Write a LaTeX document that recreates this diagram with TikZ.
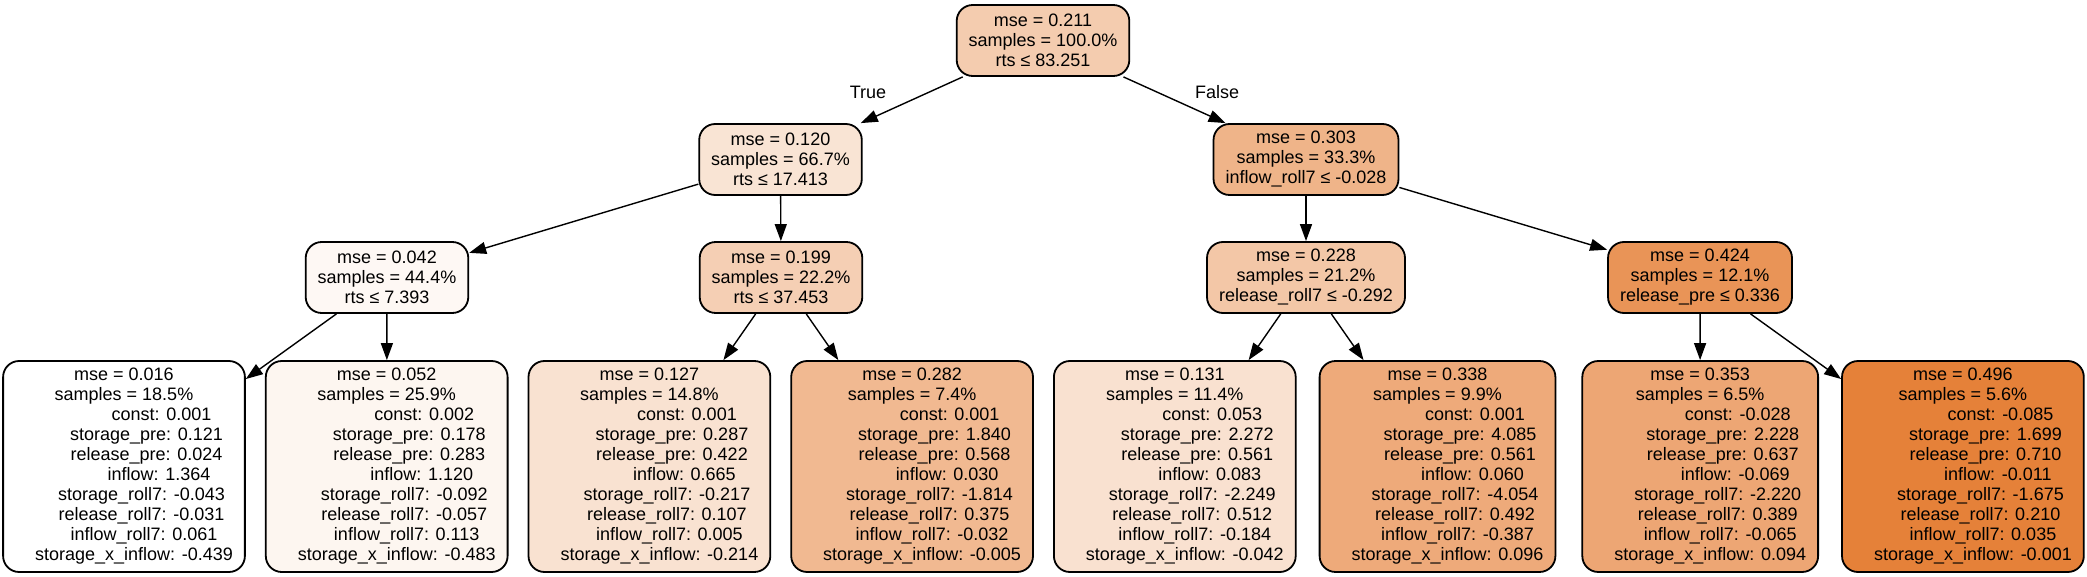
\documentclass[tikz,border=0pt]{standalone}
\usepackage{fontspec}
\setmainfont{Liberation Sans}
\usetikzlibrary{arrows.meta}
\definecolor{c211}{RGB}{244,204,175}
\definecolor{c120}{RGB}{249,228,212}
\definecolor{c303}{RGB}{239,180,137}
\definecolor{c042}{RGB}{254,248,244}
\definecolor{c199}{RGB}{245,207,180}
\definecolor{c228}{RGB}{243,199,167}
\definecolor{c424}{RGB}{233,148,87}
\definecolor{c016}{RGB}{255,255,255}
\definecolor{c052}{RGB}{253,246,240}
\definecolor{c127}{RGB}{249,226,209}
\definecolor{c282}{RGB}{241,185,145}
\definecolor{c131}{RGB}{249,225,208}
\definecolor{c338}{RGB}{238,170,122}
\definecolor{c353}{RGB}{237,166,116}
\definecolor{c496}{RGB}{229,129,57}
\newcommand\fl[2]{\hspace*{#1\fontdimen2\font}#2}
\newcommand\leaftext[8]{%
\fl{15}{const: #1}\\\fl{9}{storage\_pre: #2}\\\fl{9}{release\_pre: #3}\\\fl{14}{inflow: #4}\\%
\fl{7}{storage\_roll7: #5}\\\fl{7}{release\_roll7: #6}\\\fl{8}{inflow\_roll7: #7}\\\fl{4}{storage\_x\_inflow: #8}}
\tikzset{
  treenode/.style={draw=black, rounded corners=8pt, line width=0.9pt, align=center,
    inner xsep=6pt, inner ysep=2pt, minimum height=35.5pt,
    font=\fontsize{9pt}{10pt}\selectfont},
  leafnode/.style={treenode, minimum height=105.5pt},
  edge/.style={-{Triangle[length=8.5pt,width=6pt]}, line width=0.7pt},
  edgelabel/.style={font=\fontsize{9pt}{10pt}\selectfont}
}
\begin{document}
\begin{tikzpicture}[x=0.5pt,y=-0.5pt]
\useasboundingbox (0,0) rectangle (2087,577);
% internal nodes
\node[treenode, fill=c211] (root) at (1043,40.5) {mse = 0.211\\samples = 100.0\%\\rts ≤ 83.251};
\node[treenode, fill=c120] (n120) at (780.5,159.5) {mse = 0.120\\samples = 66.7\%\\rts ≤ 17.413};
\node[treenode, fill=c303] (n303) at (1306,159.5) {mse = 0.303\\samples = 33.3\%\\inflow\_roll7 ≤ -0.028};
\node[treenode, fill=c042] (n042) at (387,277.5) {mse = 0.042\\samples = 44.4\%\\rts ≤ 7.393};
\node[treenode, fill=c199] (n199) at (781,277.5) {mse = 0.199\\samples = 22.2\%\\rts ≤ 37.453};
\node[treenode, fill=c228] (n228) at (1306,277.5) {mse = 0.228\\samples = 21.2\%\\release\_roll7 ≤ -0.292};
\node[treenode, fill=c424] (n424) at (1700,277.5) {mse = 0.424\\samples = 12.1\%\\release\_pre ≤ 0.336};
% leaves
\node[leafnode, fill=c016] (l1) at (124,466.5) {mse = 0.016\\samples = 18.5\%\\\leaftext{0.001}{0.121}{0.024}{1.364}{-0.043}{-0.031}{0.061}{-0.439}};
\node[leafnode, fill=c052] (l2) at (386.7,466.5) {mse = 0.052\\samples = 25.9\%\\\leaftext{0.002}{0.178}{0.283}{1.120}{-0.092}{-0.057}{0.113}{-0.483}};
\node[leafnode, fill=c127] (l3) at (649.4,466.5) {mse = 0.127\\samples = 14.8\%\\\leaftext{0.001}{0.287}{0.422}{0.665}{-0.217}{0.107}{0.005}{-0.214}};
\node[leafnode, fill=c282] (l4) at (912.1,466.5) {mse = 0.282\\samples = 7.4\%\\\leaftext{0.001}{1.840}{0.568}{0.030}{-1.814}{0.375}{-0.032}{-0.005}};
\node[leafnode, fill=c131] (l5) at (1174.8,466.5) {mse = 0.131\\samples = 11.4\%\\\leaftext{0.053}{2.272}{0.561}{0.083}{-2.249}{0.512}{-0.184}{-0.042}};
\node[leafnode, fill=c338] (l6) at (1437.5,466.5) {mse = 0.338\\samples = 9.9\%\\\leaftext{0.001}{4.085}{0.561}{0.060}{-4.054}{0.492}{-0.387}{0.096}};
\node[leafnode, fill=c353] (l7) at (1700.2,466.5) {mse = 0.353\\samples = 6.5\%\\\leaftext{-0.028}{2.228}{0.637}{-0.069}{-2.220}{0.389}{-0.065}{0.094}};
\node[leafnode, fill=c496] (l8) at (1962.9,466.5) {mse = 0.496\\samples = 5.6\%\\\leaftext{-0.085}{1.699}{0.710}{-0.011}{-1.675}{0.210}{0.035}{-0.001}};
% edges
\draw[edge] (root) -- (n120);
\draw[edge] (root) -- (n303);
\draw[edge] (n120) -- (n042);
\draw[edge] (n120) -- (n199);
\draw[edge] (n303) -- (n228);
\draw[edge] (n303) -- (n424);
\draw[edge] (n042) -- (l1);
\draw[edge] (n042) -- (l2);
\draw[edge] (n199) -- (l3);
\draw[edge] (n199) -- (l4);
\draw[edge] (n228) -- (l5);
\draw[edge] (n228) -- (l6);
\draw[edge] (n424) -- (l7);
\draw[edge] (n424) -- (l8);
% edge labels
\node[edgelabel] (ltrue) at (868,92) {True};
\node[edgelabel] (lfalse) at (1217,92) {False};
\end{tikzpicture}
\end{document}
